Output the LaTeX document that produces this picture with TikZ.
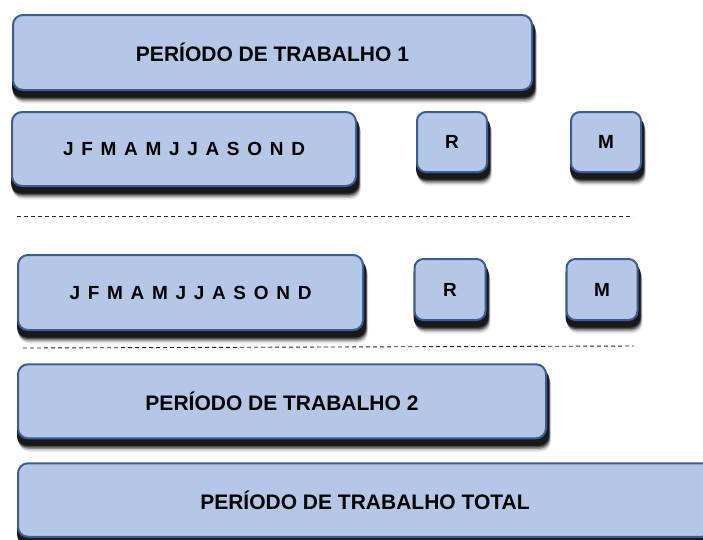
\documentclass[tikz,border=0pt]{standalone}
\usepackage{fontspec}
\setmainfont{Liberation Sans}
\usetikzlibrary{backgrounds}
\definecolor{boxfill}{RGB}{180,199,231}
\definecolor{boxline}{RGB}{58,92,152}
\newcommand{\mygap}{\hspace{7.7pt}}
\newcommand{\shadowlayer}[4]{%
  \fill[#4, rounded corners=10pt] ([shift={(#2-1,#3-1)}]#1.north west) rectangle ([shift={(#2+1,#3)}]#1.south east);}
\newcommand{\castshadow}[1]{%
  \shadowlayer{#1}{3}{12.5}{black!8}%
  \shadowlayer{#1}{2.5}{11}{black!22}%
  \shadowlayer{#1}{2}{9.5}{black!45}%
  \shadowlayer{#1}{1.5}{8}{black!70}%
  \shadowlayer{#1}{1}{6.5}{black!90}}
\tikzset{
  panel/.style={draw=boxline, line width=2pt, fill=boxfill, rounded corners=10pt,
    inner sep=0pt, font=\fontsize{21}{24}\selectfont\bfseries},
  monthbox/.style={panel, font=\fontsize{19}{22}\selectfont\bfseries},
  letterbox/.style={panel, font=\fontsize{19}{22}\selectfont\bfseries, rounded corners=9pt},
  sepline/.style={draw=black!85, line width=0.9pt, dash pattern=on 4pt off 3pt}
}
\begin{document}
\begin{tikzpicture}[x=1pt,y=-1pt]
\useasboundingbox (0,0) rectangle (703,539);
\node[panel, minimum width=519pt, minimum height=75pt] (pt1) at (272.5,52.5) {PERÍODO DE TRABALHO 1};
\node[monthbox, minimum width=344pt, minimum height=74pt] (m1) at (184,149) {J\mygap F\mygap M\mygap A\mygap M\mygap J\mygap J\mygap A\mygap S\mygap O\mygap N\mygap D};
\node[letterbox, minimum width=70pt, minimum height=60pt] (r1) at (452,142) {R};
\node[letterbox, minimum width=70pt, minimum height=60pt] (mm1) at (606,142) {M};

\coordinate (l1a) at (17,216);
\coordinate (l1b) at (633,216);
\draw[sepline] (l1a) -- (l1b);

\node[monthbox, minimum width=345pt, minimum height=75pt] (m2) at (190.5,292.5) {J\mygap F\mygap M\mygap A\mygap M\mygap J\mygap J\mygap A\mygap S\mygap O\mygap N\mygap D};
\node[letterbox, minimum width=71pt, minimum height=61pt] (r2) at (450,289.5) {R};
\node[letterbox, minimum width=71pt, minimum height=61pt] (mm2) at (602,289.5) {M};

\coordinate (l2a) at (23,348);
\coordinate (l2b) at (634,346);
\draw[sepline] (l2a) -- (l2b);

\node[panel, minimum width=528pt, minimum height=74pt] (pt2) at (282,401.3) {PERÍODO DE TRABALHO 2};
\node[panel, minimum width=694pt, minimum height=73.5pt] (ptt) at (365,500) {PERÍODO DE TRABALHO TOTAL};

\begin{scope}[on background layer]
\clip (0,0) rectangle (703,539);
\castshadow{pt1}
\castshadow{m1}
\castshadow{r1}
\castshadow{mm1}
\castshadow{m2}
\castshadow{r2}
\castshadow{mm2}
\castshadow{pt2}
\castshadow{ptt}
\end{scope}
\end{tikzpicture}
\end{document}
